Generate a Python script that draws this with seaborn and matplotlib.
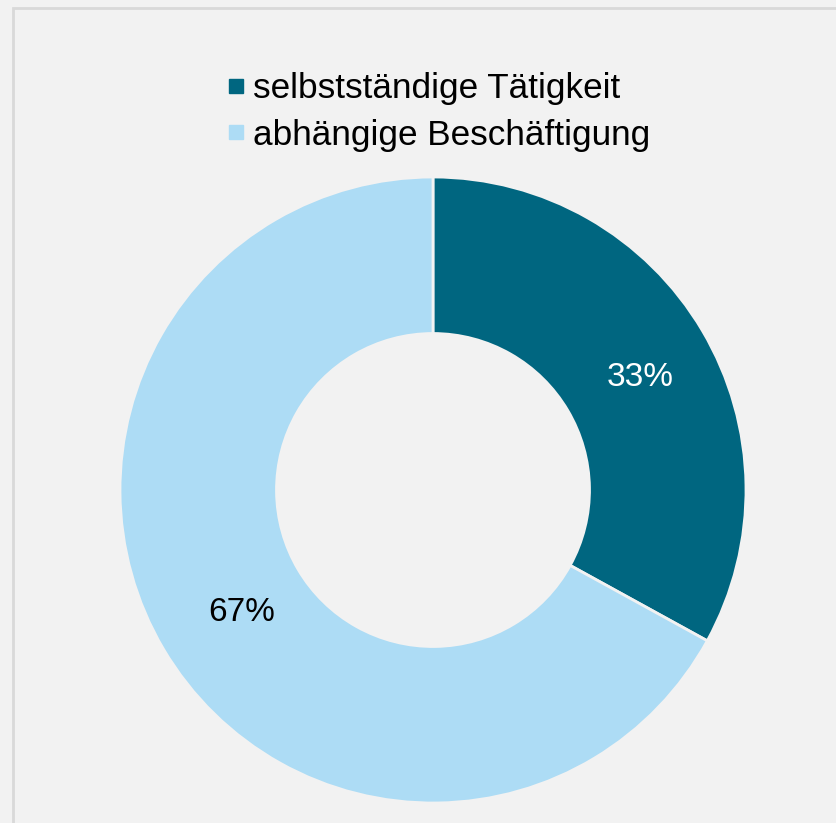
import matplotlib
matplotlib.use("Agg")
import matplotlib.pyplot as plt
import seaborn as sns
from matplotlib.lines import Line2D
from matplotlib.patches import Rectangle
from matplotlib.transforms import offset_copy

# data
categories = ["selbstständige Tätigkeit", "abhängige Beschäftigung"]
shares = [33, 67]
colors = ["#006680", "#ADDCF5"]
label_colors = ["white", "black"]

sns.set_theme(style="white")
plt.rcParams["font.family"] = ["Liberation Sans", "DejaVu Sans"]
plt.rcParams["text.color"] = "black"

W, H = 836, 823
fig = plt.figure(figsize=(W / 100, H / 100), dpi=100, facecolor="#F2F2F2")

# grey chart frame (only left/top edges are visible in the crop)
fig.patches.append(Rectangle((13 / W, -0.1), 1.2, 1 - 8 / H + 0.1,
                             transform=fig.transFigure, fill=False,
                             edgecolor="#D9D9D9", linewidth=2))

# donut: centre (433, 490) px, outer radius 313 px
cx, cy, r = 433, 490, 313
ax = fig.add_axes([(cx - r) / W, (H - cy - r) / H, 2 * r / W, 2 * r / H])
ax.set_facecolor("none")
wedges, texts, autotexts = ax.pie(
    shares, colors=colors, startangle=90, counterclock=False,
    autopct=lambda p: f"{p:.0f}%", pctdistance=0.74,
    wedgeprops=dict(width=0.5, edgecolor="#F2F2F2", linewidth=2),
    textprops=dict(fontsize=24),
)
for t, c in zip(autotexts, label_colors):
    t.set_color(c)
    # nudge labels a little like the original (Excel) placement
    t.set_transform(offset_copy(t.get_transform(), fig=fig, x=8, y=-5, units="dots"))
ax.set_xlim(-1, 1)
ax.set_ylim(-1, 1)
ax.set_aspect("equal")
ax.axis("off")

handles = [Line2D([], [], marker="s", linestyle="", markersize=10.5,
                  markerfacecolor=c, markeredgecolor=c) for c in colors]
fig.legend(handles, categories, loc="upper left",
           bbox_to_anchor=(229 / W, 1 - 72 / H), frameon=False,
           fontsize=25.3, handlelength=0.4, handletextpad=0.28,
           labelspacing=0.39, borderpad=0, borderaxespad=0)

fig.savefig("out.png", dpi=100, facecolor=fig.get_facecolor())
